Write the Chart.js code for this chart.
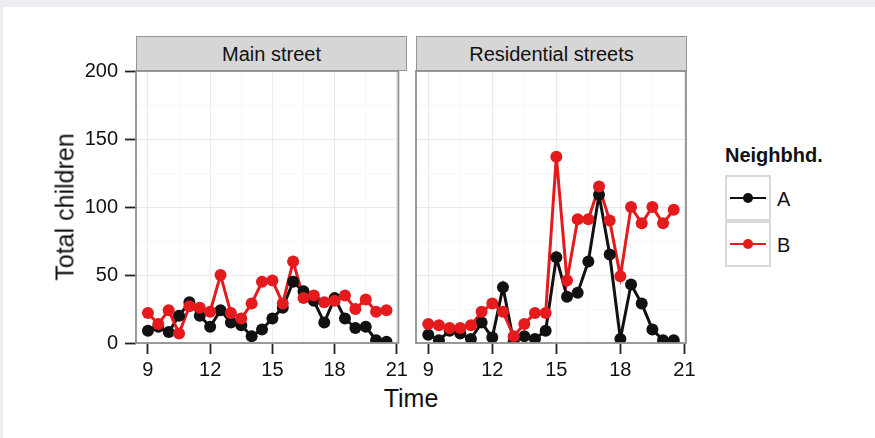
<!DOCTYPE html>
<html>
<head>
<meta charset="utf-8">
<script src="https://cdn.jsdelivr.net/npm/chart.js@4.4.1/dist/chart.umd.min.js"></script>
<style>
  body { margin: 0; background: #eceef4; }
  #page { position: absolute; left: 3px; top: 7px; width: 880px; height: 440px; background: #fff; }
  #wrap { position: absolute; left: 0; top: 0; width: 875px; height: 438px; font-family: "Liberation Sans Narrow", "Liberation Sans", Arial, sans-serif; color: #111; }
  canvas { position: absolute; }
  .strip { position: absolute; top: 36px; height: 35px; background: #d6d6d6; border: 1px solid #959595; box-sizing: border-box;
           font-size: 20px; line-height: 34px; text-align: center; }
  .title { position: absolute; font-size: 25px; white-space: nowrap; }
  .key { position: absolute; left: 725px; width: 46px; height: 46px; border: 2px solid #d9d9d9; box-sizing: border-box; background: #fff; }
  .key .ln { position: absolute; left: 3px; right: 3px; top: 20px; height: 2px; }
  .key .dt { position: absolute; left: 16px; top: 16px; width: 10px; height: 10px; border-radius: 50%; }
  .lab { position: absolute; left: 777px; font-size: 20px; font-family: "Liberation Sans", Arial, sans-serif; }
</style>
</head>
<body>
<div id="page"></div>
<div id="wrap">
  <div class="strip" style="left:136px;width:271px;">Main street</div>
  <div class="strip" style="left:416px;width:271px;">Residential streets</div>
  <canvas id="c1" width="392" height="333" style="left:20px;top:50px;"></canvas>
  <canvas id="c2" width="290" height="333" style="left:410px;top:50px;"></canvas>
  <div class="title" style="left:411px;top:384px;transform:translateX(-50%);">Time</div>
  <div class="title" style="left:65px;top:207px;transform:translate(-50%,-50%) rotate(-90deg);">Total children</div>
  <div class="title" style="left:725px;top:144px;font-size:20px;font-weight:bold;font-family:'Liberation Sans',Arial,sans-serif;">Neighbhd.</div>
  <div class="key" style="top:175px;"><div class="ln" style="background:#111;"></div><div class="dt" style="background:#111;"></div></div>
  <div class="key" style="top:221px;"><div class="ln" style="background:#e41a1c;"></div><div class="dt" style="background:#e41a1c;"></div></div>
  <div class="lab" style="top:188px;">A</div>
  <div class="lab" style="top:234px;">B</div>
</div>
<script>
// half-hour time slots
var times = [9, 9.5, 10, 10.5, 11, 11.5, 12, 12.5, 13, 13.5, 14, 14.5,
             15, 15.5, 16, 16.5, 17, 17.5, 18, 18.5, 19, 19.5, 20, 20.5];

var mainA = [9, 12, 8, 20, 30, 20, 12, 24, 15, 13, 5, 10, 18, 26, 45, 38, 31, 15, 33, 18, 11, 12, 2, 1];
var mainB = [22, 14, 24, 7, 27, 26, 23, 50, 22, 18, 29, 45, 46, 29, 60, 33, 35, 30, 31, 35, 25, 32, 23, 24];
var resA  = [6, 2, 9, 7, 3, 15, 4, 41, 1, 5, 3, 9, 63, 34, 37, 60, 109, 65, 3, 43, 29, 10, 2, 2];
var resB  = [14, 13, 11, 11, 13, 23, 29, 23, 5, 14, 22, 22, 137, 46, 91, 91, 115, 90, 49, 100, 88, 100, 88, 98];

var yTicks = [0, 25, 50, 75, 100, 125, 150, 175, 200];
var yLabels = [0, 50, 100, 150, 200];
var xTicks = [9, 10.5, 12, 13.5, 15, 16.5, 18, 19.5, 21];
var xLabels = [9, 12, 15, 18, 21];

var colA = '#111111', colB = '#e41a1c';

Chart.defaults.font.family = '"Liberation Sans Narrow", "Liberation Sans", Arial, sans-serif';
Chart.defaults.font.size = 20;
Chart.defaults.color = '#111';

function pts(vals) {
  return times.map(function(t, i) { return { x: t, y: vals[i] }; });
}

function sets(a, b) {
  var line = { showLine: true, pointRadius: 0, borderWidth: 3, tension: 0, clip: 0 };
  var dot = { showLine: false, pointRadius: 6, pointBorderWidth: 0, clip: 0 };
  return [
    Object.assign({ data: pts(b), backgroundColor: colB, pointBackgroundColor: colB, order: 0 }, dot),
    Object.assign({ data: pts(a), backgroundColor: colA, pointBackgroundColor: colA, order: 1 }, dot),
    Object.assign({ data: pts(b), borderColor: colB, order: 2 }, line),
    Object.assign({ data: pts(a), borderColor: colA, order: 3 }, line)
  ];
}

var panelBorder = {
  id: 'panelBorder',
  afterDatasetsDraw: function(chart) {
    var a = chart.chartArea, ctx = chart.ctx;
    ctx.save();
    ctx.strokeStyle = '#909090';
    ctx.lineWidth = 1.8;
    ctx.strokeRect(a.left, a.top, a.right - a.left, a.bottom - a.top);
    ctx.restore();
  }
};

function makePanel(id, a, b, showY, pad) {
  return new Chart(document.getElementById(id), {
    type: 'scatter',
    data: { datasets: sets(a, b) },
    options: {
      responsive: false,
      animation: false,
      layout: { padding: pad },
      plugins: { legend: { display: false }, tooltip: { enabled: false } },
      scales: {
        x: {
          type: 'linear', min: 8.425, max: 21.075,
          afterBuildTicks: function(s) { s.ticks = xTicks.map(function(v) { return { value: v }; }); },
          afterFit: function(s) { s.height = 40; },
          border: { display: false },
          grid: {
            color: function(c) { return xLabels.indexOf(c.tick.value) >= 0 ? '#ebebeb' : '#f7f7f7'; },
            tickColor: function(c) { return xLabels.indexOf(c.tick.value) >= 0 ? '#222' : 'rgba(0,0,0,0)'; },
            tickLength: 11, lineWidth: 1, tickWidth: 1.8
          },
          ticks: {
            padding: 4, maxRotation: 0, autoSkip: false,
            callback: function(v) { return xLabels.indexOf(v) >= 0 ? v : ''; }
          }
        },
        y: {
          min: 0, max: 200,
          afterBuildTicks: function(s) { s.ticks = yTicks.map(function(v) { return { value: v }; }); },
          afterFit: function(s) { s.width = showY ? 116 : 0; },
          border: { display: false },
          grid: {
            color: function(c) { return yLabels.indexOf(c.tick.value) >= 0 ? '#ebebeb' : '#f7f7f7'; },
            tickColor: function(c) { return yLabels.indexOf(c.tick.value) >= 0 ? '#222' : 'rgba(0,0,0,0)'; },
            drawTicks: showY, tickLength: 11, lineWidth: 1, tickWidth: 1.8
          },
          ticks: {
            display: showY, padding: 7, autoSkip: false,
            callback: function(v) { return yLabels.indexOf(v) >= 0 ? v : ''; }
          }
        }
      }
    },
    plugins: [panelBorder]
  });
}

makePanel('c1', mainA, mainB, true, { left: 0, right: 6, top: 21, bottom: 0 });
makePanel('c2', resA, resB, false, { left: 6, right: 14, top: 21, bottom: 0 });
</script>
</body>
</html>
